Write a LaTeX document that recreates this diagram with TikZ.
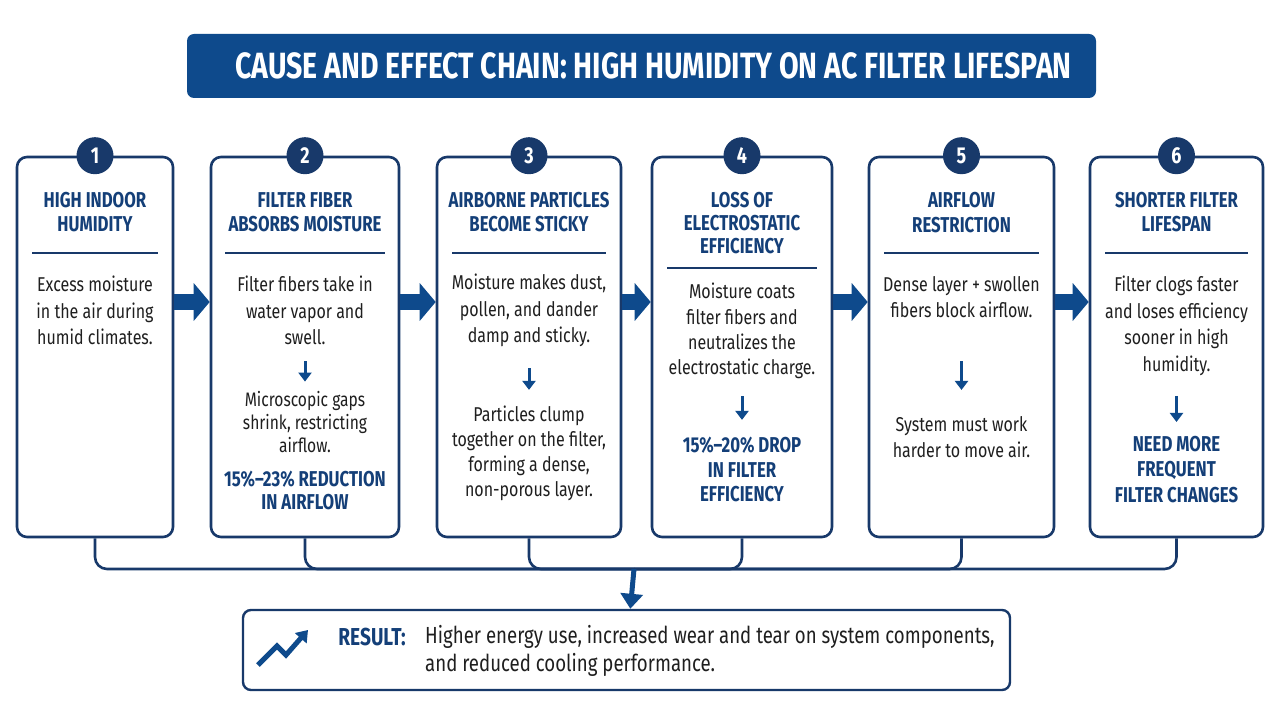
\documentclass[tikz,border=0pt]{standalone}
\usepackage{fontspec}
\setmainfont{Fira Sans}[FakeStretch=0.8]
\newfontfamily\condfont{Fira Sans}[FakeStretch=0.78]
\usepackage{tikz}
\usetikzlibrary{arrows.meta}

\definecolor{navy}{HTML}{0E4A8C}
\definecolor{edgeblue}{HTML}{18396A}
\definecolor{headblue}{HTML}{143F78}
\definecolor{ink}{HTML}{1F1F1F}

\tikzstyle{banner} = [rectangle, fill=navy, rounded corners=7pt, minimum width=909pt, minimum height=64pt, text=white, font=\condfont\bfseries\fontsize{36.5}{40}\selectfont]
\tikzstyle{stepbox} = [rectangle, draw=edgeblue, line width=2.6pt, rounded corners=10pt, minimum height=380pt]
\tikzstyle{badge} = [circle, fill=edgeblue, text=white, minimum size=37pt, inner sep=0pt, font=\condfont\bfseries\fontsize{23}{23}\selectfont]
\tikzstyle{heading} = [align=center, inner sep=0pt, text=headblue, font=\condfont\bfseries\fontsize{21.5}{24.5}\selectfont]
\tikzstyle{body} = [align=center, inner sep=0pt, text=ink, font=\fontsize{20}{26.5}\selectfont]
\tikzstyle{sepline} = [draw=edgeblue, line width=2.4pt]
\tikzstyle{nextarrow} = [draw=navy, line width=16pt, -{Triangle[length=16pt,width=37pt]}]
\tikzstyle{downarrow} = [draw=navy, line width=3pt, -{Triangle[length=9pt,width=13pt]}]
\tikzstyle{busline} = [draw=edgeblue, line width=2.6pt, rounded corners=12pt]
\tikzstyle{resultbox} = [rectangle, draw=edgeblue, line width=2.4pt, rounded corners=8pt, minimum width=767pt, minimum height=80pt]

\begin{document}
\begin{tikzpicture}[x=1pt, y=-1pt]

\fill[white] (0,0) rectangle (1280,727);
\useasboundingbox (0,0) rectangle (1280,727);

% Title
\node (title) [banner] at (641.5,66) {\hspace*{24pt}CAUSE AND EFFECT CHAIN: HIGH HUMIDITY ON AC FILTER LIFESPAN};

% Step boxes
\node (b1) [stepbox, minimum width=156pt] at (95,347) {};
\node (b2) [stepbox, minimum width=188pt] at (305,347) {};
\node (b3) [stepbox, minimum width=184pt] at (529,347) {};
\node (b4) [stepbox, minimum width=180pt] at (742,347) {};
\node (b5) [stepbox, minimum width=185pt] at (961.5,347) {};
\node (b6) [stepbox, minimum width=173pt] at (1176.5,347) {};

\node (n1) [badge] at (b1.north) {1};
\node (n2) [badge] at (b2.north) {2};
\node (n3) [badge] at (b3.north) {3};
\node (n4) [badge] at (b4.north) {4};
\node (n5) [badge] at (b5.north) {5};
\node (n6) [badge] at (b6.north) {6};

% Step 1
\node (h1) [heading] at (95,212) {HIGH INDOOR\\HUMIDITY};
\draw[sepline] (32,253) -- (158,253);
\node (t1) [body] at (95,310.5) {Excess moisture\\in the air during\\humid climates.};

% Step 2
\node (h2) [heading] at (305,212) {FILTER FIBER\\ABSORBS MOISTURE};
\draw[sepline] (225,253) -- (385,253);
\node (t2a) [body] at (305,310.5) {Filter fibers take in\\water vapor and\\swell.};
\node (t2b) [body, font=\fontsize{19.5}{23}\selectfont] at (305,422.5) {Microscopic gaps\\shrink, restricting\\airflow.};
\node (s2) [heading, font=\condfont\bfseries\fontsize{21.5}{23}\selectfont] at (305,490.5) {15\%–23\% REDUCTION\\IN AIRFLOW};

% Step 3
\node (h3) [heading] at (529,212) {AIRBORNE PARTICLES\\BECOME STICKY};
\draw[sepline] (452,253) -- (606,253);
\node (t3a) [body] at (529,310.5) {Moisture makes dust,\\pollen, and dander\\damp and sticky.};
\node (t3b) [body, font=\fontsize{20}{25}\selectfont] at (529,453.5) {Particles clump\\together on the filter,\\forming a dense,\\non-porous layer.};

% Step 4
\node (h4) [heading, font=\condfont\bfseries\fontsize{21.5}{23}\selectfont] at (742,223) {LOSS OF\\ELECTROSTATIC\\EFFICIENCY};
\draw[sepline] (667,268) -- (817,268);
\node (t4a) [body, font=\fontsize{20}{25.3}\selectfont] at (742,331) {Moisture coats\\filter fibers and\\neutralizes the\\electrostatic charge.};
\node (s4) [heading] at (742,469.5) {15\%–20\% DROP\\IN FILTER\\EFFICIENCY};

% Step 5
\node (h5) [heading] at (961.5,212.5) {AIRFLOW\\RESTRICTION};
\draw[sepline] (884,253) -- (1039,253);
\node (t5a) [body] at (961.5,297) {Dense layer + swollen\\fibers block airflow.};
\node (t5b) [body] at (961.5,437) {System must work\\harder to move air.};

% Step 6
\node (h6) [heading] at (1176.5,212) {SHORTER FILTER\\LIFESPAN};
\draw[sepline] (1105,253) -- (1248,253);
\node (t6a) [body] at (1176.5,326) {Filter clogs faster\\and loses efficiency\\sooner in high\\humidity.};
\node (s6) [heading, font=\condfont\bfseries\fontsize{21.5}{25.5}\selectfont] at (1176.5,469.5) {NEED MORE\\FREQUENT\\FILTER CHANGES};

% Result
\node (result) [resultbox] at (626.5,650) {};
\node (rlabel) [text=headblue, inner sep=0pt, font=\condfont\bfseries\fontsize{24.5}{24.5}\selectfont] at (372,637) {RESULT:};
\node (rtext) [anchor=west, align=left, inner sep=0pt, text=ink, font=\fontsize{23.3}{28}\selectfont] at (425,651) {Higher energy use, increased wear and tear on system components,\\and reduced cooling performance.};
\draw[navy, line width=5pt, -{Triangle[length=11pt,width=15pt]}] (258,665) -- (277,646) -- (286,655) -- (308,630);

% Arrows
\draw[nextarrow] ([yshift=45pt]b1.east) -- ([yshift=45pt]b2.west);
\draw[nextarrow] ([yshift=45pt]b2.east) -- ([yshift=45pt]b3.west);
\draw[nextarrow] ([yshift=45pt]b3.east) -- ([yshift=45pt]b4.west);
\draw[nextarrow] ([yshift=45pt]b4.east) -- ([yshift=45pt]b5.west);
\draw[nextarrow] ([yshift=45pt]b5.east) -- ([yshift=45pt]b6.west);

\draw[downarrow, shorten <=16pt, shorten >=10pt] (t2a) -- (t2b);
\draw[downarrow, shorten <=21pt, shorten >=16pt] (t3a) -- (t3b);
\draw[downarrow, shorten <=17pt, shorten >=17pt] (t4a) -- (s4);
\draw[downarrow, shorten <=43pt, shorten >=26pt] (t5a) -- (t5b);
\draw[downarrow, shorten <=20pt, shorten >=14pt] (t6a) -- (s6);

\coordinate (bus) at (634,569);
\draw[busline] (b1.south) |- (bus);
\draw[busline] (b2.south) |- (bus);
\draw[busline] (b3.south) |- (bus);
\draw[busline] (b4.south) |- (bus);
\draw[busline] (b5.south) |- (bus);
\draw[busline] (b6.south) |- (bus);
\draw[navy, line width=5pt, -{Triangle[length=15pt,width=22pt]}] (bus) -- (result);

\end{tikzpicture}
\end{document}
